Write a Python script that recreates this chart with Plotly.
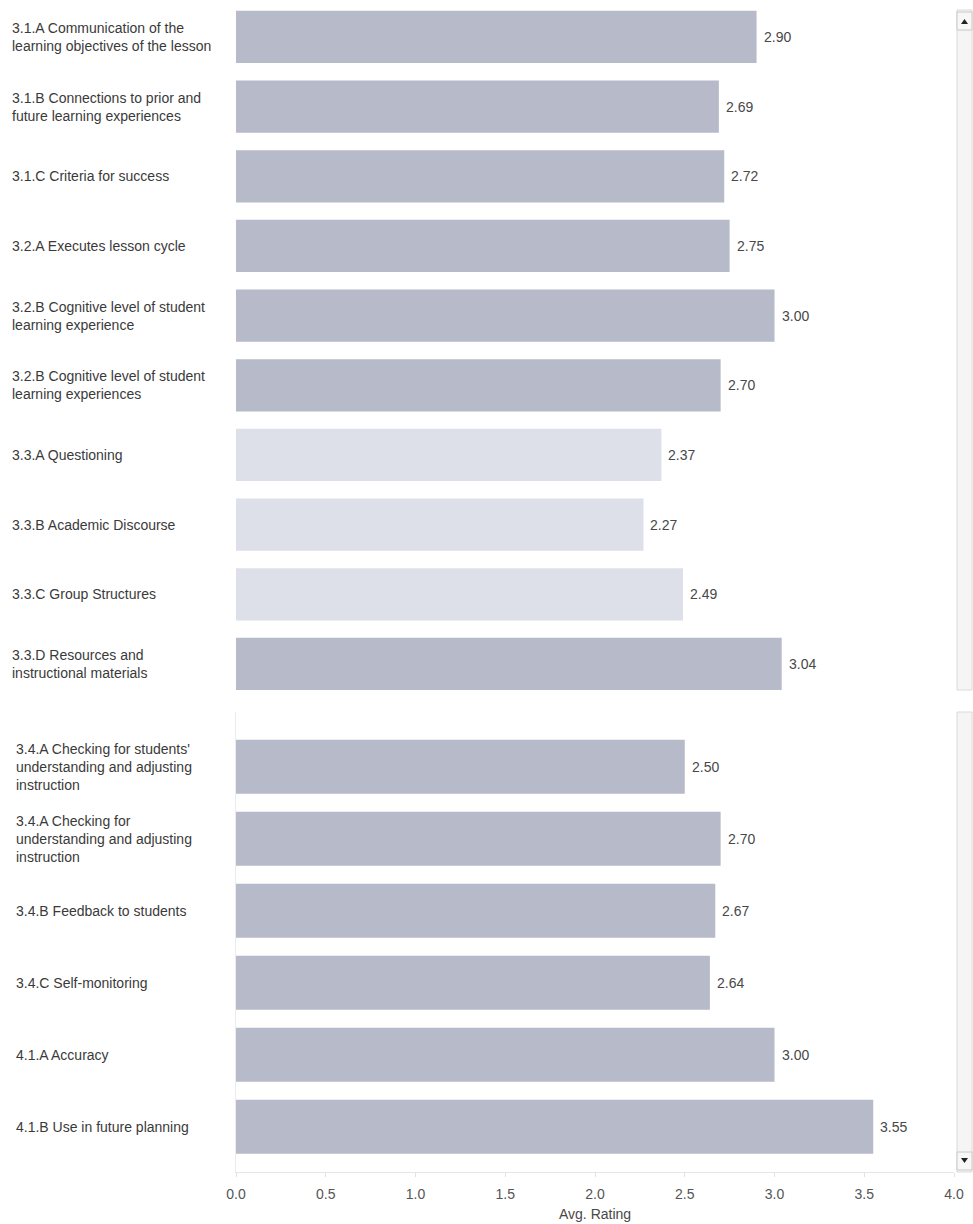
import plotly.graph_objects as go

# Rubric items and their average ratings (two scrolling panels)
top_items = [
    "3.1.A Communication of the<br>learning objectives of the lesson",
    "3.1.B Connections to prior and<br>future learning experiences",
    "3.1.C Criteria for success",
    "3.2.A Executes lesson cycle",
    "3.2.B Cognitive level of student<br>learning experience",
    "3.2.B Cognitive level of student<br>learning experiences",
    "3.3.A Questioning",
    "3.3.B Academic Discourse",
    "3.3.C Group Structures",
    "3.3.D Resources and<br>instructional materials",
]
top_ratings = [2.90, 2.69, 2.72, 2.75, 3.00, 2.70, 2.37, 2.27, 2.49, 3.04]

bottom_items = [
    "3.4.A Checking for students'<br>understanding and adjusting<br>instruction",
    "3.4.A Checking for<br>understanding and adjusting<br>instruction",
    "3.4.B Feedback to students",
    "3.4.C Self-monitoring",
    "4.1.A Accuracy",
    "4.1.B Use in future planning",
]
bottom_ratings = [2.50, 2.70, 2.67, 2.64, 3.00, 3.55]

x_ticks = [0.0, 0.5, 1.0, 1.5, 2.0, 2.5, 3.0, 3.5, 4.0]
x_title = "Avg. Rating"

# Items drawn in the lighter tone
light_codes = {"3.3.A", "3.3.B", "3.3.C"}

DARK = "rgb(182,186,201)"
LIGHT = "rgb(221,224,233)"
FONT = "Liberation Sans, Arial, sans-serif"
FS = 14

W, H = 973, 1224
ML, MR, MT, MB = 236, 19, 0, 52
PLOT_W = W - ML - MR
PLOT_H = H - MT - MB


def py(pix):
    """Pixel row (from top) -> paper y."""
    return 1 - (pix - MT) / PLOT_H


def px(pix):
    """Pixel column -> paper x."""
    return (pix - ML) / PLOT_W


def colors(items):
    return [LIGHT if it.split(" ")[0] in light_codes else DARK for it in items]


fig = go.Figure()

panels = [
    (top_items, top_ratings, "x", "y"),
    (bottom_items, bottom_ratings, "x2", "y2"),
]

annotations = []
for items, vals, xa, ya in panels:
    fig.add_trace(go.Bar(
        x=vals, y=items, orientation="h",
        marker=dict(color=colors(items), line=dict(width=0)),
        width=0.75, xaxis=xa, yaxis=ya,
        hoverinfo="x+y", showlegend=False,
    ))
    for it, v in zip(items, vals):
        # category label at the left edge
        annotations.append(dict(
            x=px(10 if ya == "y" else 14), xref="paper", y=it, yref=ya,
            text=it, showarrow=False, xanchor="left", yanchor="middle",
            align="left", font=dict(family=FONT, size=FS, color="#3a3a3a"),
        ))
        # value label just past the bar end
        annotations.append(dict(
            x=v, xref=xa, y=it, yref=ya, text=f"{v:.2f}",
            showarrow=False, xanchor="left", yanchor="middle", xshift=5,
            font=dict(family=FONT, size=FS, color="#484848"),
        ))

annotations.append(dict(
    x=0.5, xref="paper", y=py(1214), yref="paper", text=x_title,
    showarrow=False, xanchor="center", yanchor="middle",
    font=dict(family=FONT, size=FS, color="#484848"),
))

# scrollbars beside each panel
shapes = []
sb_x0, sb_x1 = px(957), px(972)
for top_pix, bot_pix in [(10, 690), (712, 1172)]:
    shapes.append(dict(type="rect", xref="paper", yref="paper",
                       x0=sb_x0, x1=sb_x1, y0=py(bot_pix), y1=py(top_pix),
                       fillcolor="#f5f5f5", line=dict(color="#dadada", width=1),
                       layer="below"))
# arrow buttons
shapes.append(dict(type="rect", xref="paper", yref="paper",
                   x0=sb_x0, x1=sb_x1, y0=py(30), y1=py(12),
                   fillcolor="#f7f7f7", line=dict(color="#c8c8c8", width=1)))
shapes.append(dict(type="path", xref="paper", yref="paper",
                   path=f"M {px(961)} {py(24)} L {px(968)} {py(24)} L {px(964.5)} {py(19)} Z",
                   fillcolor="#222222", line=dict(width=0)))
shapes.append(dict(type="rect", xref="paper", yref="paper",
                   x0=sb_x0, x1=sb_x1, y0=py(1170), y1=py(1152),
                   fillcolor="#f7f7f7", line=dict(color="#c8c8c8", width=1)))
shapes.append(dict(type="path", xref="paper", yref="paper",
                   path=f"M {px(961)} {py(1158)} L {px(968)} {py(1158)} L {px(964.5)} {py(1163)} Z",
                   fillcolor="#222222", line=dict(width=0)))

fig.update_layout(
    width=W, height=H,
    margin=dict(l=ML, r=MR, t=MT, b=MB),
    paper_bgcolor="white", plot_bgcolor="white",
    font=dict(family=FONT, size=FS, color="#484848"),
    xaxis=dict(domain=[0, 1], range=[0, 4], anchor="y",
               showticklabels=False, showgrid=False, zeroline=False,
               showline=False, fixedrange=True),
    yaxis=dict(domain=[py(695), 1], anchor="x",
               type="category", categoryarray=top_items,
               range=[9.445, -0.53], showticklabels=False,
               showgrid=False, zeroline=False, showline=False),
    xaxis2=dict(domain=[0, 1], range=[0, 4], anchor="y2",
                tickvals=x_ticks, ticktext=[f"{t:.1f}" for t in x_ticks],
                tickfont=dict(family=FONT, size=FS, color="#555555"),
                ticks="outside", ticklen=4, tickcolor="#e2e2e2",
                ticklabelstandoff=5,
                showgrid=False, zeroline=False,
                showline=True, linecolor="#e6e6e6", linewidth=1),
    yaxis2=dict(domain=[0, py(712)], anchor="x2",
                type="category", categoryarray=bottom_items,
                range=[5.63, -0.76], showticklabels=False,
                showgrid=False, zeroline=False,
                showline=True, linecolor="#ececec", linewidth=1),
    annotations=annotations,
    shapes=shapes,
)

fig.write_html("out.html")
